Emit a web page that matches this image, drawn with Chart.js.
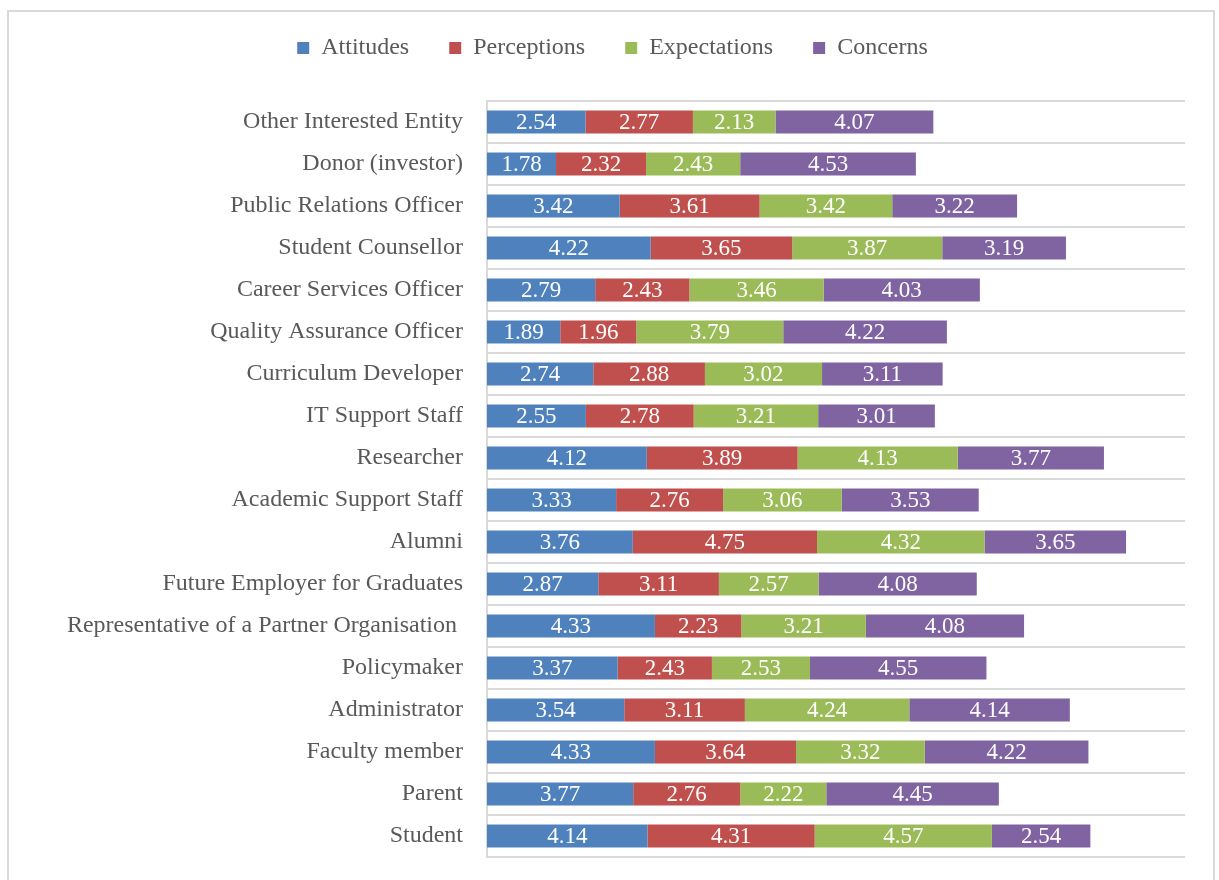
<!DOCTYPE html>
<html>
<head>
<meta charset="utf-8">
<script src="https://cdn.jsdelivr.net/npm/chart.js@4.4.1/dist/chart.umd.min.js"></script>
<style>
  html, body { margin: 0; padding: 0; background: #ffffff; }
  #wrap { position: relative; width: 1219px; height: 880px; }
</style>
</head>
<body>
<div id="wrap"><canvas id="c" width="1219" height="880"></canvas></div>
<script>
const categories = [
  "Other Interested Entity", "Donor (investor)", "Public Relations Officer",
  "Student Counsellor", "Career Services Officer", "Quality Assurance Officer",
  "Curriculum Developer", "IT Support Staff", "Researcher", "Academic Support Staff",
  "Alumni", "Future Employer for Graduates", "Representative of a Partner Organisation ",
  "Policymaker", "Administrator", "Faculty member", "Parent", "Student"
];
const seriesNames = ["Attitudes", "Perceptions", "Expectations", "Concerns"];
const attitudes    = [2.54, 1.78, 3.42, 4.22, 2.79, 1.89, 2.74, 2.55, 4.12, 3.33, 3.76, 2.87, 4.33, 3.37, 3.54, 4.33, 3.77, 4.14];
const perceptions  = [2.77, 2.32, 3.61, 3.65, 2.43, 1.96, 2.88, 2.78, 3.89, 2.76, 4.75, 3.11, 2.23, 2.43, 3.11, 3.64, 2.76, 4.31];
const expectations = [2.13, 2.43, 3.42, 3.87, 3.46, 3.79, 3.02, 3.21, 4.13, 3.06, 4.32, 2.57, 3.21, 2.53, 4.24, 3.32, 2.22, 4.57];
const concerns     = [4.07, 4.53, 3.22, 3.19, 4.03, 4.22, 3.11, 3.01, 3.77, 3.53, 3.65, 4.08, 4.08, 4.55, 4.14, 4.22, 4.45, 2.54];
const colors = ["#4F81BD", "#C0504D", "#9BBB59", "#8064A2"];

const FONT = "'Liberation Serif', 'Times New Roman', serif";

const borderPlugin = {
  id: 'outerBorder',
  beforeLayout(chart) {
    const lg = chart.legend;
    if (lg && !lg._patchedFit) {
      const orig = lg.fit.bind(lg);
      lg.fit = function () { orig(); this.height = 105; };
      lg._patchedFit = true;
    }
  },
  beforeDraw(chart) {
    const ctx = chart.ctx;
    ctx.save();
    ctx.fillStyle = '#ffffff';
    ctx.fillRect(0, 0, chart.width, chart.height);
    ctx.strokeStyle = '#d9d9d9';
    ctx.lineWidth = 2;
    ctx.strokeRect(8, 11, 1206, 900);
    ctx.restore();
  }
};

const labelPlugin = {
  id: 'segLabels',
  afterDatasetsDraw(chart) {
    const ctx = chart.ctx;
    ctx.save();
    ctx.fillStyle = '#ffffff';
    ctx.font = "23px " + FONT;
    ctx.textAlign = 'center';
    ctx.textBaseline = 'middle';
    chart.data.datasets.forEach((ds, di) => {
      const meta = chart.getDatasetMeta(di);
      meta.data.forEach((el, i) => {
        const p = el.getProps(['x', 'y', 'base'], true);
        ctx.fillText(ds.data[i].toFixed(2), (p.x + p.base) / 2, p.y + 1);
      });
    });
    ctx.restore();
  }
};

const seriesData = [attitudes, perceptions, expectations, concerns];

new Chart(document.getElementById('c'), {
  type: 'bar',
  data: {
    labels: categories,
    datasets: seriesNames.map((n, i) => ({
      label: n,
      data: seriesData[i],
      backgroundColor: colors[i],
      borderWidth: 0,
      barPercentage: 0.55,
      categoryPercentage: 1.0
    }))
  },
  options: {
    indexAxis: 'y',
    responsive: false,
    animation: false,
    layout: { padding: { top: -4, right: 34, bottom: 23, left: 40 } },
    plugins: {
      legend: {
        position: 'top',
        labels: {
          boxWidth: 12,
          boxHeight: 12,
          padding: 40,
          color: '#595959',
          font: { family: FONT, size: 24 }
        }
      },
      tooltip: { enabled: false }
    },
    scales: {
      x: {
        stacked: true,
        min: 0,
        max: 18,
        display: false
      },
      y: {
        stacked: true,
        afterFit(scale) {
          scale.width = 447;
          scale.paddingTop = 0;
          scale.paddingBottom = 0;
        },
        grid: { display: true, color: '#d9d9d9', lineWidth: 2, drawTicks: false, offset: true },
        border: { display: true, color: '#d9d9d9', width: 2 },
        ticks: {
          padding: 24,
          color: '#595959',
          font: { family: FONT, size: 24 }
        }
      }
    }
  },
  plugins: [borderPlugin, labelPlugin]
});
</script>
</body>
</html>
